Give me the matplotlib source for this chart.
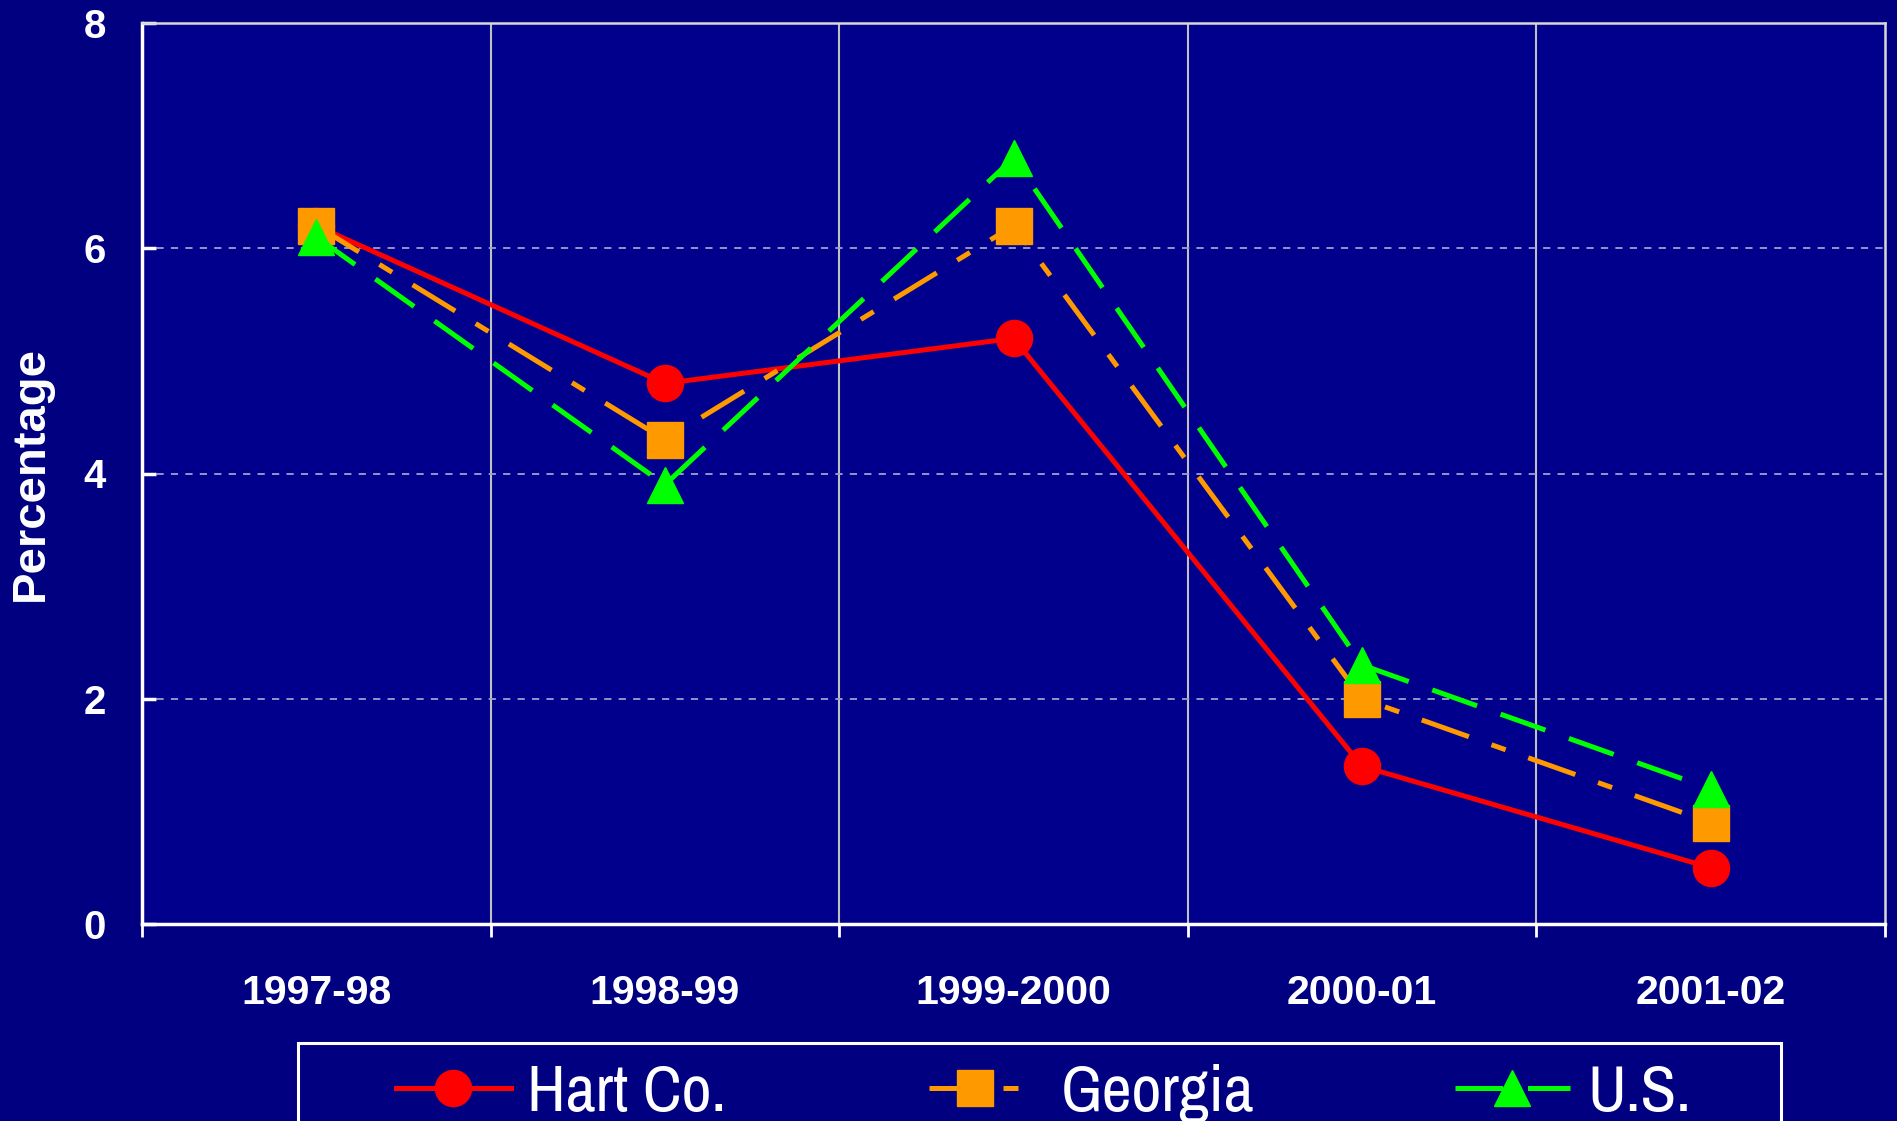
import matplotlib
matplotlib.use("Agg")
import matplotlib.pyplot as plt
from matplotlib import font_manager as fm
from matplotlib.patches import Rectangle
from matplotlib.ticker import FixedLocator, FixedFormatter

# ---- data ----
categories = ["1997-98", "1998-99", "1999-2000", "2000-01", "2001-02"]
hart = [6.2, 4.8, 5.2, 1.4, 0.5]
georgia = [6.2, 4.3, 6.2, 2.0, 0.9]
us = [6.1, 3.9, 6.8, 2.3, 1.2]
series_names = ["Hart Co.", "Georgia", "U.S."]
yticks = [0, 2, 4, 6, 8]

names = {f.name for f in fm.fontManager.ttflist}
narrow = "Liberation Sans"
for cand in ["Liberation Sans Narrow", "Arial Narrow", "Archivo Narrow", "PT Sans Narrow",
             "Roboto Condensed", "Open Sans Condensed", "IBM Plex Sans Condensed"]:
    if cand in names:
        narrow = cand
        break

FIG_BG = "#000080"
AX_BG = "#00008C"
W, H = 1897, 1121

fig = plt.figure(figsize=(18.97, 11.21), dpi=100, facecolor=FIG_BG)
ax = fig.add_axes([142/W, 1-924/H, (1885-142)/W, (924-23)/H])
ax.set_facecolor(AX_BG)

x = list(range(len(categories)))
l1, = ax.plot(x, hart, color="#FF0000", lw=3.6, marker="o", ms=26, mec="#FF0000",
              label=series_names[0], zorder=3)
l2, = ax.plot(x, georgia, color="#FF9900", lw=3.6, marker="s", ms=26, mec="#FF9900",
              dashes=(10, 4.8, 3, 4.8), label=series_names[1], zorder=4)
l3, = ax.plot(x, us, color="#00FF00", lw=3.6, marker="^", ms=26, mec="#00FF00",
              dashes=(9.5, 5), label=series_names[2], zorder=5)

ax.set_xlim(-0.5, len(categories) - 0.5)
ax.set_ylim(0, 8)

# x axis: labels at categories, ticks at boundaries
ax.xaxis.set_major_locator(FixedLocator(x))
ax.xaxis.set_major_formatter(FixedFormatter(categories))
ax.xaxis.set_minor_locator(FixedLocator([i - 0.5 for i in range(len(categories) + 1)]))
ax.tick_params(axis="x", which="major", length=0, pad=36, labelsize=29.5, labelcolor="white")
ax.tick_params(axis="x", which="minor", length=9, width=2, color="white", direction="out")
for lab in ax.get_xticklabels():
    lab.set_fontfamily("Liberation Sans")
    lab.set_fontweight("bold")

ax.set_yticks(yticks)
ax.tick_params(axis="y", which="major", length=10, width=2.5, color="white", direction="in",
               pad=26, labelsize=29, labelcolor="white")
for lab in ax.get_yticklabels():
    lab.set_fontfamily("Liberation Sans")
    lab.set_fontweight("bold")

# grids
ax.grid(False)
for xv in [i + 0.5 for i in range(len(categories) - 1)]:
    ax.axvline(xv, color="#C0C0C0", lw=1.5, zorder=1)
for yv in yticks[1:-1]:
    ax.axhline(yv, color="#A0A0D0", lw=1.3, dashes=(4, 4), zorder=1)

for side in ["left", "bottom"]:
    ax.spines[side].set_color("white")
    ax.spines[side].set_linewidth(2.5)
for side in ["top", "right"]:
    ax.spines[side].set_color("#D8D8D8")
    ax.spines[side].set_linewidth(1.8)

ax.set_ylabel("Percentage", fontsize=34, fontweight="bold", color="white",
              fontfamily="Liberation Sans", labelpad=22)

# legend frame (runs off the bottom edge, as in the original)
fig.add_artist(Rectangle((298/W, -0.05), (1781-298)/W, (H-1043)/H + 0.05,
                         transform=fig.transFigure, fill=False, ec="white", lw=2.2))

# one legend per entry, positioned like the original
leg_specs = [(l1, 396, 1.76, 0.25), (l2, 929, 1.4, 0.62), (l3, 1455, 1.76, 0.27)]
for line, xpix, hl, tp in leg_specs:
    lg = fig.legend(handles=[line], labels=[line.get_label()], loc="upper left",
                    bbox_to_anchor=(xpix/W, 1-1064/H), frameon=False, borderpad=0,
                    borderaxespad=0, prop={"family": narrow, "size": 47},
                    handlelength=hl, handletextpad=tp, labelcolor="white")

fig.savefig("out.png", dpi=100, facecolor=FIG_BG)
